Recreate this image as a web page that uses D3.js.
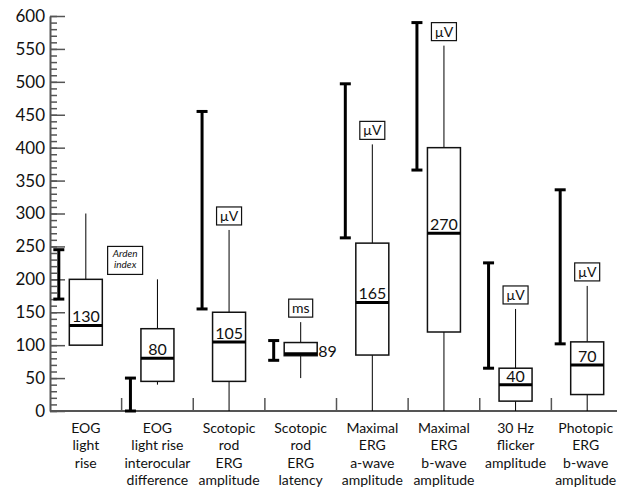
<!DOCTYPE html>
<html>
<head>
<meta charset="utf-8">
<script src="https://cdn.jsdelivr.net/npm/d3@7"></script>
<style>
  body { margin: 0; background: #fff; }
  svg { display: block; font-family: Lato, "DejaVu Sans", sans-serif; }
</style>
</head>
<body>
<div id="chart"></div>
<script>
// chart data
const categories = [
  ['EOG', 'light', 'rise'],
  ['EOG', 'light rise', 'interocular', 'difference'],
  ['Scotopic', 'rod', 'ERG', 'amplitude'],
  ['Scotopic', 'rod', 'ERG', 'latency'],
  ['Maximal', 'ERG', 'a-wave', 'amplitude'],
  ['Maximal', 'ERG', 'b-wave', 'amplitude'],
  ['30 Hz', 'flicker', 'amplitude'],
  ['Photopic', 'ERG', 'b-wave', 'amplitude']
];
// reference range (thick I-beam)
const refLow  = [170, 0, 155, 77, 263, 366, 65, 102];
const refHigh = [245, 50, 455, 107, 497, 590, 225, 336];
// box plot values
const whiskerLow  = [100, 40, 0, 50, 0, 0, 0, 0];
const q1          = [100, 45, 45, 84, 85, 120, 15, 25];
const medians     = [130, 80, 105, 87, 165, 270, 40, 70];
const q3          = [200, 125, 150, 104, 255, 400, 65, 105];
const whiskerHigh = [300, 200, 275, 135, 405, 555, 155, 190];
const medianLabels = ['130', '80', '105', '89', '165', '270', '40', '70'];
const unitLabels = [null, null, 'µV', 'ms', 'µV', 'µV', 'µV', 'µV'];
const yTicks = [0, 50, 100, 150, 200, 250, 300, 350, 400, 450, 500, 550, 600];

const FRAME_WIDTH = 617;
const FRAME_HEIGHT = 488;
const MARGINS = {left: 50, top: 16, bottom: 77};

const svg = d3.select('#chart')
  .append('svg')
    .attr('width', FRAME_WIDTH)
    .attr('height', FRAME_HEIGHT);

const Y_SCALE = d3.scaleLinear()
  .domain([0, 600])
  .range([FRAME_HEIGHT - MARGINS.bottom, MARGINS.top]);

const X_SCALE = d3.scaleBand()
  .domain(d3.range(categories.length))
  .range([MARGINS.left, 623])
  .padding(0);

const BASE = Y_SCALE(0);
const BOX_HALF = 16.5;
const REF_OFFSET = 27;
const CAP_HALF = 5.5;
const AXIS_COLOR = '#555';

const center = i => X_SCALE(i) + X_SCALE.bandwidth() / 2;

// minor y ticks
svg.append('g')
  .attr('transform', 'translate(' + MARGINS.left + ',0)')
  .call(d3.axisLeft(Y_SCALE).tickValues(d3.range(0, 601, 10)).tickSizeInner(-7).tickSizeOuter(0).tickFormat(''))
  .call(g => g.select('.domain').remove())
  .call(g => g.selectAll('line').attr('stroke', AXIS_COLOR).attr('stroke-width', 1.5));

// major y ticks and labels
svg.append('g')
  .attr('transform', 'translate(' + MARGINS.left + ',0)')
  .call(d3.axisLeft(Y_SCALE).tickValues(yTicks).tickSizeInner(-15).tickSizeOuter(0).tickPadding(5))
  .call(g => g.select('.domain').attr('stroke', AXIS_COLOR).attr('stroke-width', 2))
  .call(g => g.selectAll('line').attr('stroke', AXIS_COLOR).attr('stroke-width', 1.5))
  .call(g => g.selectAll('text').attr('font-size', '17px').attr('fill', '#111').attr('font-family', 'Lato, sans-serif'));

// x axis line and separators
svg.append('line')
  .attr('x1', MARGINS.left).attr('x2', FRAME_WIDTH)
  .attr('y1', BASE).attr('y2', BASE)
  .attr('stroke', AXIS_COLOR).attr('stroke-width', 2);

svg.selectAll('.sep')
  .data(d3.range(1, categories.length))
  .enter()
  .append('line')
    .attr('x1', i => X_SCALE(i)).attr('x2', i => X_SCALE(i))
    .attr('y1', BASE).attr('y2', BASE - 13)
    .attr('stroke', AXIS_COLOR).attr('stroke-width', 1.5);

// category labels
const catLabels = svg.selectAll('.cat')
  .data(categories)
  .enter()
  .append('text')
    .attr('text-anchor', 'middle')
    .attr('font-size', '14px')
    .attr('fill', '#111');

catLabels.each(function(lines, i) {
  d3.select(this).selectAll('tspan')
    .data(lines)
    .enter()
    .append('tspan')
      .attr('x', i === categories.length - 1 ? center(i) - 1.5 : center(i))
      .attr('y', (d, j) => 433 + j * 17.3)
      .text(d => d);
});

const idx = d3.range(categories.length);

// reference ranges (I-beams)
const ref = svg.selectAll('.ref')
  .data(idx)
  .enter()
  .append('g');

ref.append('line')
  .attr('x1', i => center(i) - REF_OFFSET).attr('x2', i => center(i) - REF_OFFSET)
  .attr('y1', i => Y_SCALE(refLow[i])).attr('y2', i => Y_SCALE(refHigh[i]))
  .attr('stroke', '#000').attr('stroke-width', 3);

ref.selectAll('.cap')
  .data(i => [[i, refLow[i]], [i, refHigh[i]]])
  .enter()
  .append('line')
    .attr('x1', d => center(d[0]) - REF_OFFSET - CAP_HALF)
    .attr('x2', d => center(d[0]) - REF_OFFSET + CAP_HALF)
    .attr('y1', d => Y_SCALE(d[1])).attr('y2', d => Y_SCALE(d[1]))
    .attr('stroke', '#000').attr('stroke-width', 3);

// whiskers
svg.selectAll('.whiskHi')
  .data(idx)
  .enter()
  .append('line')
    .attr('x1', i => center(i)).attr('x2', i => center(i))
    .attr('y1', i => Y_SCALE(q3[i])).attr('y2', i => Y_SCALE(whiskerHigh[i]))
    .attr('stroke', '#000').attr('stroke-width', 1);

svg.selectAll('.whiskLo')
  .data(idx.filter(i => whiskerLow[i] < q1[i]))
  .enter()
  .append('line')
    .attr('x1', i => center(i)).attr('x2', i => center(i))
    .attr('y1', i => Y_SCALE(whiskerLow[i])).attr('y2', i => Y_SCALE(q1[i]))
    .attr('stroke', '#000').attr('stroke-width', 1);

// boxes
svg.selectAll('.box')
  .data(idx)
  .enter()
  .append('rect')
    .attr('x', i => center(i) - BOX_HALF)
    .attr('width', BOX_HALF * 2)
    .attr('y', i => Y_SCALE(q3[i]))
    .attr('height', i => Y_SCALE(q1[i]) - Y_SCALE(q3[i]))
    .attr('fill', '#fff')
    .attr('stroke', '#111').attr('stroke-width', 1.5);

// medians
svg.selectAll('.median')
  .data(idx)
  .enter()
  .append('line')
    .attr('x1', i => center(i) - BOX_HALF).attr('x2', i => center(i) + BOX_HALF)
    .attr('y1', i => Y_SCALE(medians[i])).attr('y2', i => Y_SCALE(medians[i]))
    .attr('stroke', '#000').attr('stroke-width', 3);

// median labels (latency label sits right of its box)
svg.selectAll('.medLabel')
  .data(idx)
  .enter()
  .append('text')
    .attr('x', i => i === 3 ? center(i) + BOX_HALF + 1 : center(i))
    .attr('y', i => i === 3 ? Y_SCALE(medians[i]) + 3 : Y_SCALE(medians[i]) - 3)
    .attr('text-anchor', i => i === 3 ? 'start' : 'middle')
    .attr('font-size', '16px')
    .attr('fill', '#111')
    .text(i => medianLabels[i]);

// unit labels above whiskers
const units = svg.selectAll('.unit')
  .data(idx.filter(i => unitLabels[i]))
  .enter()
  .append('g')
    .attr('transform', i => 'translate(' + center(i) + ',' + (Y_SCALE(whiskerHigh[i]) - 5) + ')');

units.append('rect')
  .attr('x', i => unitLabels[i] === 'ms' ? -12 : -12.5)
  .attr('y', -18)
  .attr('width', i => unitLabels[i] === 'ms' ? 24 : 25)
  .attr('height', 18)
  .attr('fill', '#fff')
  .attr('stroke', '#111').attr('stroke-width', 1.2);

units.append('text')
  .attr('x', 0).attr('y', -4)
  .attr('text-anchor', 'middle')
  .attr('font-size', '14px')
  .attr('fill', '#111')
  .text(i => unitLabels[i]);

// "Arden index" note for the EOG light rise
const arden = svg.append('g')
  .attr('transform', 'translate(' + (X_SCALE(1) - 14) + ',' + Y_SCALE(250) + ')');

arden.append('rect')
  .attr('x', 0).attr('y', 0)
  .attr('width', 35).attr('height', 28)
  .attr('fill', '#fff')
  .attr('stroke', '#111').attr('stroke-width', 1.2);

arden.selectAll('text')
  .data(['Arden', 'index'])
  .enter()
  .append('text')
    .attr('x', 17.5)
    .attr('y', (d, j) => 11 + j * 11)
    .attr('text-anchor', 'middle')
    .attr('font-size', '10px')
    .attr('font-style', 'italic')
    .attr('fill', '#111')
    .text(d => d);
</script>
</body>
</html>
